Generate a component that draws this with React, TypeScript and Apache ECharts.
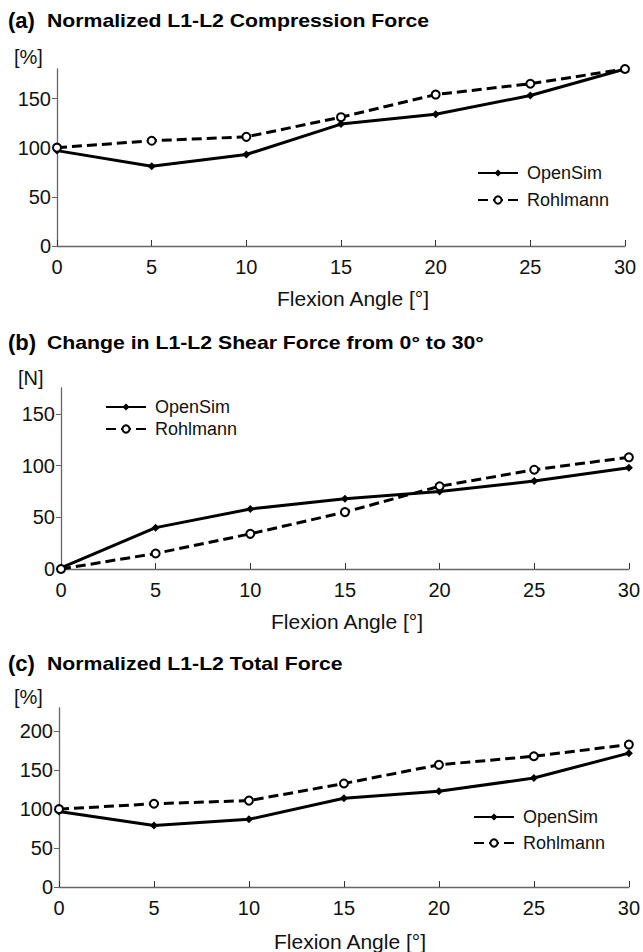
import React, { useEffect, useRef } from "react";
import * as echarts from "echarts";

const angles = [0, 5, 10, 15, 20, 25, 30];
const xTicks = ["0", "5", "10", "15", "20", "25", "30"];

const compOpenSim = [97, 81, 93, 124, 134, 153, 180];
const compRohlmann = [100, 107, 111, 131, 154, 165, 180];

const shearOpenSim = [1, 40, 58, 68, 75, 85, 98];
const shearRohlmann = [0, 15, 34, 55, 80, 96, 108];

const totalOpenSim = [97, 79, 87, 114, 123, 140, 172];
const totalRohlmann = [100, 107, 111, 133, 157, 168, 183];

const titles = [
  { tag: "(a)", text: "Normalized L1-L2 Compression Force", unit: "[%]" },
  { tag: "(b)", text: "Change in L1-L2 Shear Force from 0° to 30°", unit: "[N]" },
  { tag: "(c)", text: "Normalized L1-L2 Total Force", unit: "[%]" },
];
const xAxisName = "Flexion Angle [°]";

const yMaxes = [180, 175, 230];
const seriesNames = ["OpenSim", "Rohlmann"];

const FONT = "Liberation Sans, Arial, sans-serif";
const AXIS_COLOR = "#666";

export default function App() {
  const ref = useRef<HTMLDivElement>(null);
  useEffect(() => {
    if (!ref.current) return;
    const chart = echarts.init(ref.current, null, { renderer: "svg" });

    const grids = [
      { left: 57, right: 18, top: 69, height: 177 },
      { left: 61, right: 13, top: 388, height: 181 },
      { left: 59, right: 12, top: 708, height: 179 },
    ];
    const titleY = [20, 342, 663];
    const unitY = [57, 378, 697];
    const unitX = [14, 18, 14];
    const axisNamePos = [
      [353, 298],
      [347, 621],
      [350, 941],
    ];
    const legends = [
      { left: 472, top: 159, itemGap: 9 },
      { left: 100, top: 393, itemGap: 4 },
      { left: 468, top: 803, itemGap: 8 },
    ];

    const pairs = (ys: number[]) => angles.map((a, i) => [a, ys[i]]);
    const dataSets = [
      [compOpenSim, compRohlmann],
      [shearOpenSim, shearRohlmann],
      [totalOpenSim, totalRohlmann],
    ];

    const xAxis: any[] = [];
    const yAxis: any[] = [];
    const series: any[] = [];
    const legend: any[] = [];
    const graphic: any[] = [];

    grids.forEach((g, i) => {
      xAxis.push({
        gridIndex: i,
        type: "value",
        min: 0,
        max: 30,
        interval: 5,
        axisLine: { lineStyle: { color: AXIS_COLOR, width: 1.3 } },
        axisTick: { show: true, inside: true, length: 6, lineStyle: { color: "#333", width: 1 } },
        axisLabel: {
          fontFamily: FONT,
          fontSize: 20,
          color: "#111",
          margin: 11,
          formatter: (v: number) => xTicks[angles.indexOf(v)] ?? "",
        },
        splitLine: { show: false },
      });
      yAxis.push({
        gridIndex: i,
        type: "value",
        min: 0,
        max: yMaxes[i],
        interval: 50,
        axisLine: { show: true, lineStyle: { color: AXIS_COLOR, width: 1.3 } },
        axisTick: { show: true, length: 5, lineStyle: { color: AXIS_COLOR } },
        axisLabel: {
          fontFamily: FONT,
          fontSize: 20,
          color: "#111",
          margin: 6,
          showMaxLabel: false,
          formatter: (v: number) => (v % 50 === 0 ? String(v) : ""),
        },
        splitLine: { show: false },
      });
      series.push({
        name: seriesNames[0],
        type: "line",
        xAxisIndex: i,
        yAxisIndex: i,
        data: pairs(dataSets[i][0]),
        symbol: "diamond",
        symbolSize: 8,
        itemStyle: { color: "#000" },
        lineStyle: { color: "#000", width: 3 },
        z: 3,
      });
      series.push({
        name: seriesNames[1],
        type: "line",
        xAxisIndex: i,
        yAxisIndex: i,
        data: pairs(dataSets[i][1]),
        symbol: "circle",
        symbolSize: 8,
        itemStyle: { color: "#fff", borderColor: "#000", borderWidth: 2 },
        lineStyle: { color: "#000", width: 3, type: [10, 5] },
        z: 4,
      });
      legend.push({
        left: legends[i].left,
        top: legends[i].top,
        itemGap: legends[i].itemGap,
        orient: "vertical",
        itemWidth: 40,
        itemHeight: 9,
        data: seriesNames,
        textStyle: { fontFamily: FONT, fontSize: 18, color: "#111", padding: [0, 0, 0, 4] },
        seriesIndex: [2 * i, 2 * i + 1],
      });
      graphic.push({
        type: "text",
        x: 8,
        y: titleY[i],
        style: {
          text: titles[i].tag,
          fontFamily: FONT,
          fontSize: 22,
          fontWeight: "bold",
          fill: "#000",
          verticalAlign: "middle",
        },
      });
      graphic.push({
        type: "text",
        x: 47,
        y: titleY[i] + 1,
        scaleX: 1.18,
        style: {
          text: titles[i].text,
          fontFamily: FONT,
          fontSize: 18,
          fontWeight: "bold",
          fill: "#000",
          verticalAlign: "middle",
        },
      });
      graphic.push({
        type: "text",
        x: unitX[i],
        y: unitY[i],
        style: {
          text: titles[i].unit,
          fontFamily: FONT,
          fontSize: 20,
          fill: "#111",
          verticalAlign: "middle",
        },
      });
      graphic.push({
        type: "text",
        x: axisNamePos[i][0],
        y: axisNamePos[i][1],
        style: {
          text: xAxisName,
          fontFamily: FONT,
          fontSize: 21,
          fill: "#111",
          align: "center",
          verticalAlign: "middle",
        },
      });
    });

    chart.setOption({
      animation: false,
      backgroundColor: "#fff",
      grid: grids,
      xAxis,
      yAxis,
      series,
      legend,
      graphic,
    });
    return () => chart.dispose();
  }, []);
  return (
    <div
      ref={ref}
      style={{ position: "fixed", left: 0, top: 0, width: 643, height: 952, background: "#fff" }}
    />
  );
}
